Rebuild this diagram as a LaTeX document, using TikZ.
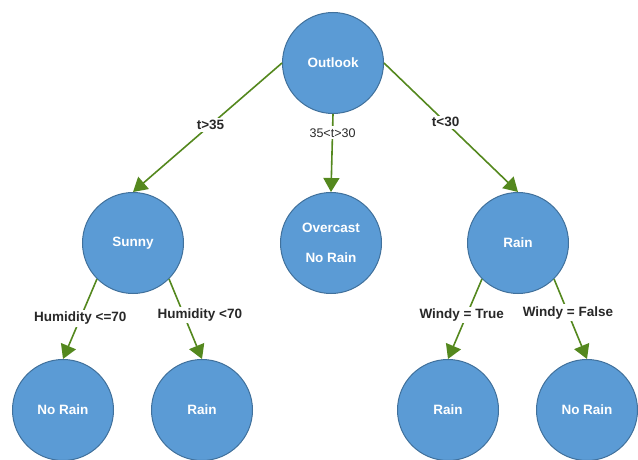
\documentclass[tikz,border=0pt]{standalone}
\usepackage{fontspec}
\setmainfont{Liberation Sans}
\usetikzlibrary{arrows.meta}
\definecolor{nodeblue}{RGB}{91,155,213}
\definecolor{nodeline}{RGB}{65,113,156}
\definecolor{edgegreen}{RGB}{84,136,30}
\definecolor{labeltext}{RGB}{40,40,40}
\begin{document}
\begin{tikzpicture}[x=1pt,y=-1pt]
    \useasboundingbox (0,0) rectangle (638,460);

      \begin{scope}[every node/.style={circle,draw=nodeline,fill=nodeblue,line width=1pt,
          minimum size=101pt,inner sep=0pt,text=white,align=center,
          font=\bfseries\fontsize{13.5}{16}\selectfont}]
        \node (1) at (333,63)  {Outlook};
        \node (2) at (133,243) {Sunny};
        \node (3) at (331,243) {Overcast\\[14pt]No Rain};
        \node (4) at (518,243) {Rain};
        \node (5) at (63,410)  {No Rain};
        \node (6) at (202,410) {Rain};
        \node (7) at (448,410) {Rain};
        \node (8) at (587,410) {No Rain};
      \end{scope}

      \begin{scope}[every node/.style={fill=white,inner sep=2pt,text=labeltext,
          font=\bfseries\fontsize{13.5}{16}\selectfont}]

        \begin{scope}[every edge/.style={draw=edgegreen,line width=1.6pt,
            -{Triangle[length=14pt,width=16pt]}}]
          \path (1.west)       edge node[pos=.48] {t>35} (2.north);
          \path (1.south)      edge node[pos=.24,font=\fontsize{12.5}{15}\selectfont] {35<t>30} (3.north);
          \path (1.east)       edge node[pos=.46] {t<30} (4.north);
          \path (2.south west) edge node[pos=.49] {Humidity <=70} (5.north);
          \path (2.south east) edge node[pos=.45,xshift=16pt] {Humidity <70} (6.north);
          \path (4.south west) edge node[pos=.45,xshift=-5pt] {Windy = True} (7.north);
          \path (4.south east) edge node[pos=.42] {Windy = False} (8.north);
        \end{scope}
      \end{scope}

    \end{tikzpicture}
\end{document}
